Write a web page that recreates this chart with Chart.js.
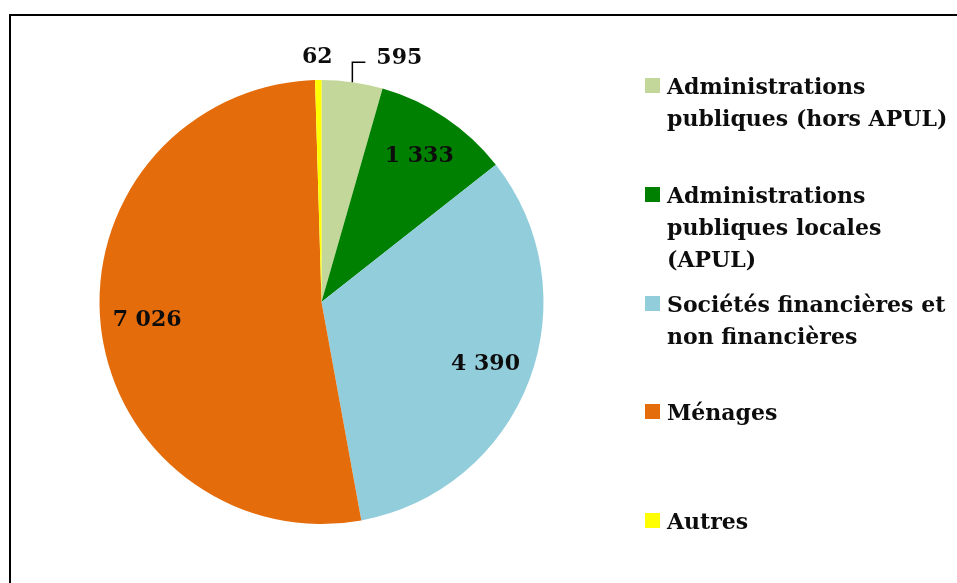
<!DOCTYPE html>
<html>
<head>
<meta charset="utf-8">
<script src="https://cdn.jsdelivr.net/npm/chart.js@4"></script>
<style>
  html, body { margin: 0; padding: 0; background: #fff; }
  #wrap { position: relative; width: 957px; height: 583px; overflow: hidden; }
  #cadre { position: absolute; left: 9px; top: 14px; width: 1000px; height: 600px;
           border-top: 2px solid #000; border-left: 2px solid #000; }
  #graphique { position: absolute; left: 0; top: 0; }
  #legende { position: absolute; left: 645px; top: 70px; width: 310px;
             font-family: "DejaVu Serif", serif; font-weight: bold; font-size: 22px;
             color: #0d0d0d; white-space: nowrap; }
  .item { position: relative; height: 108.75px; padding-left: 22px; line-height: 32px; }
  .carre { position: absolute; left: 0; top: 8px; width: 15px; height: 15px; }
</style>
</head>
<body>
<div id="wrap">
  <div id="cadre"></div>
  <canvas id="graphique" width="957" height="583"></canvas>
  <div id="legende"></div>
</div>
<script>
const categories = [
  ["Administrations", "publiques (hors APUL)"],
  ["Administrations", "publiques locales", "(APUL)"],
  ["Sociétés financières et", "non financières"],
  ["Ménages"],
  ["Autres"]
];
const valeurs = [595, 1333, 4390, 7026, 62];
const couleurs = ["#C4D79B", "#008000", "#92CDDC", "#E46C0A", "#FFFF00"];

// étiquettes placées à l'extérieur pour les petites parts
const etiquettesExt = { 0: { leader: true }, 4: { leader: false } };

const formatNombre = v => String(v).replace(/\B(?=(\d{3})+(?!\d))/g, " ");

const etiquettes = {
  id: "etiquettes",
  afterDatasetsDraw(chart) {
    const ctx = chart.ctx;
    const arcs = chart.getDatasetMeta(0).data;
    ctx.save();
    ctx.font = "bold 22px 'DejaVu Serif'";
    ctx.fillStyle = "#0d0d0d";
    ctx.strokeStyle = "#000";
    ctx.lineWidth = 1.5;
    ctx.textBaseline = "middle";
    arcs.forEach((arc, i) => {
      const p = arc.getProps(["x", "y", "startAngle", "endAngle", "outerRadius"], true);
      const mid = (p.startAngle + p.endAngle) / 2;
      const texte = formatNombre(valeurs[i]);
      const ext = etiquettesExt[i];
      if (!ext) {
        const r = p.outerRadius * 0.79;
        ctx.textAlign = "center";
        ctx.fillText(texte, p.x + Math.cos(mid) * r, p.y + Math.sin(mid) * r);
        return;
      }
      const ax = p.x + Math.cos(mid) * p.outerRadius;
      const ay = p.y + Math.sin(mid) * p.outerRadius;
      if (ext.leader) {
        ctx.beginPath();
        ctx.moveTo(ax, ay);
        ctx.lineTo(ax, ay - 20);
        ctx.lineTo(ax + 13, ay - 20);
        ctx.stroke();
        ctx.textAlign = "left";
        ctx.fillText(texte, ax + 24, ay - 24);
      } else {
        ctx.textAlign = "center";
        ctx.fillText(texte, ax - 1, ay - 23);
      }
    });
    ctx.restore();
  }
};

new Chart(document.getElementById("graphique"), {
  type: "pie",
  data: {
    labels: categories,
    datasets: [{
      data: valeurs,
      backgroundColor: couleurs,
      borderWidth: 0
    }]
  },
  options: {
    responsive: false,
    animation: false,
    layout: { padding: { left: 99, top: 80, right: 413, bottom: 59 } },
    plugins: {
      legend: { display: false },
      tooltip: { enabled: false }
    }
  },
  plugins: [etiquettes]
});

// légende à droite
const legende = document.getElementById("legende");
categories.forEach((lignes, i) => {
  const item = document.createElement("div");
  item.className = "item";
  const carre = document.createElement("span");
  carre.className = "carre";
  carre.style.background = couleurs[i];
  item.appendChild(carre);
  lignes.forEach(l => {
    const d = document.createElement("div");
    d.textContent = l;
    item.appendChild(d);
  });
  legende.appendChild(item);
});
</script>
</body>
</html>
